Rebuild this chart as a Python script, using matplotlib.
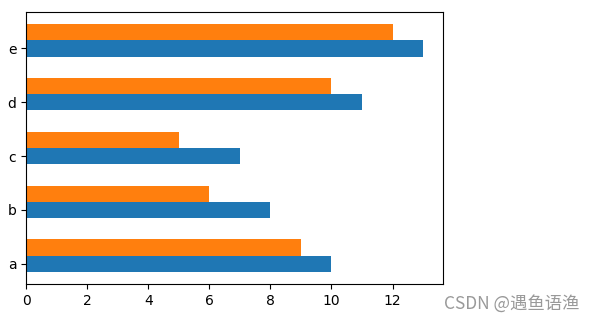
import matplotlib.pyplot as plt
import numpy as np

labels = ['a', 'b', 'c', 'd', 'e']
blue_vals = [10, 8, 7, 11, 13]
orange_vals = [9, 6, 5, 10, 12]

y = np.arange(len(labels))
h = 0.3

fig = plt.figure(figsize=(5.93, 3.22), dpi=100)
ax = fig.add_axes([0.044, 0.118, 0.703, 0.845])
ax.barh(y, blue_vals, height=h, color='#1f77b4')
ax.barh(y + h, orange_vals, height=h, color='#ff7f0e')
ax.set_yticks(y)
ax.set_yticklabels(labels)
ax.tick_params(labelsize=10)

fig.text(0.978, 0.03, 'CSDN @遇鱼语渔', ha='right', va='bottom', fontsize=12.5,
         color='#999999', family=['Noto Sans CJK SC', 'DejaVu Sans'])

fig.savefig('out.png', dpi=100)
